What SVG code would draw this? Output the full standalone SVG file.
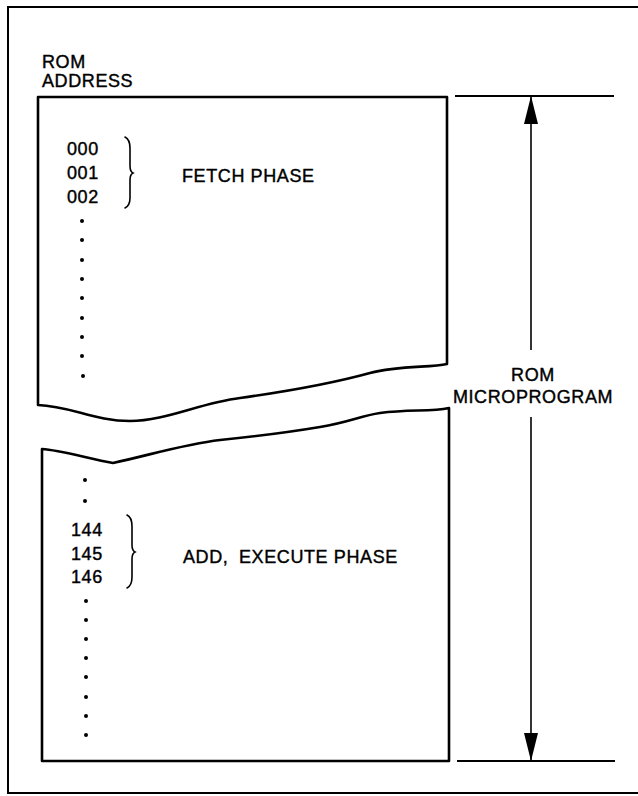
<svg xmlns="http://www.w3.org/2000/svg" width="638" height="796" viewBox="0 0 638 796">
<style>
  text { font-family: "Liberation Sans", Arial, sans-serif; font-size: 18px; fill: #000; stroke: #000; stroke-width: 0.4px; letter-spacing: 0.6px; }
  .box { fill: none; stroke: #000; stroke-width: 2.6; stroke-linejoin: round; }
  .frame { fill: none; stroke: #000; stroke-width: 2; }
  .line { fill: none; stroke: #000; stroke-width: 2.2; }
  .arrow { fill: none; stroke: #000; stroke-width: 1.6; }
  .brace { fill: none; stroke: #000; stroke-width: 1.6; stroke-linecap: round; }
  .dot { fill: #000; }
</style>
<defs>
  <marker id="ah" markerUnits="userSpaceOnUse" markerWidth="28" markerHeight="14" refX="28" refY="7" orient="auto" viewBox="0 0 28 14">
    <path d="M0,0 L28,7 L0,14 Z" fill="#000"/>
  </marker>
</defs>
<rect width="638" height="796" fill="#fff"/>
<path class="frame" d="M640,7 H8 V793 H640"/>

<g id="rom-address-label">
  <text x="42" y="68">ROM</text>
  <text x="42" y="87">ADDRESS</text>
</g>

<g id="upper-section">
  <path class="box" d="M447,97 H38 V405 C70,406 95,421 130,421 C165,421 200,403 240,398 C290,391 330,384 370,373 C400,365 430,368 447,364 Z"/>
  <text x="67" y="155">000</text>
  <text x="67" y="179">001</text>
  <text x="67" y="203">002</text>
  <path class="brace" d="M125,137 C129,139 130,143 130,148 V166 C130,170 131,172 133,173 C131,174 130,176 130,180 V198 C130,203 129,206 125,208"/>
  <text x="182" y="182">FETCH PHASE</text>
  <g class="dot">
    <circle cx="82" cy="221" r="2"/>
    <circle cx="82" cy="240" r="2"/>
    <circle cx="82" cy="260" r="2"/>
    <circle cx="82" cy="279" r="2"/>
    <circle cx="82" cy="298" r="2"/>
    <circle cx="82" cy="318" r="2"/>
    <circle cx="82" cy="337" r="2"/>
    <circle cx="82" cy="356" r="2"/>
    <circle cx="83" cy="376" r="2"/>
  </g>
</g>

<g id="lower-section">
  <path class="box" d="M42,761 V449 C60,450 90,459 113,463 C150,455 185,444 220,440 C260,436 290,432 320,427 C350,422 360,416 380,413 C410,409 430,412 449,408 V761 Z"/>
  <g class="dot">
    <circle cx="85" cy="480" r="2"/>
    <circle cx="85" cy="501" r="2"/>
    <circle cx="86" cy="601" r="2"/>
    <circle cx="86" cy="620" r="2"/>
    <circle cx="86" cy="639" r="2"/>
    <circle cx="86" cy="658" r="2"/>
    <circle cx="86" cy="677" r="2"/>
    <circle cx="86" cy="697" r="2"/>
    <circle cx="86" cy="716" r="2"/>
    <circle cx="86" cy="735" r="2"/>
  </g>
  <text x="71" y="536">144</text>
  <text x="71" y="560">145</text>
  <text x="71" y="583">146</text>
  <path class="brace" d="M127,515 C131,517 132,521 132,526 V545 C132,549 133,551 135,552 C133,553 132,555 132,559 V577 C132,582 131,586 127,588"/>
  <text x="183" y="563">ADD,<tspan dx="5"> EXECUTE PHASE</tspan></text>
</g>

<g id="rom-microprogram-label">
  <text x="533" y="381" text-anchor="middle">ROM</text>
  <text x="533" y="403" text-anchor="middle">MICROPROGRAM</text>
</g>

<g id="connectors">
  <path class="line" d="M455,96 H614"/>
  <path class="line" d="M457,761 H615"/>
  <path class="arrow" d="M531,350 V96" marker-end="url(#ah)"/>
  <path class="arrow" d="M531,417 V761" marker-end="url(#ah)"/>
</g>
</svg>
